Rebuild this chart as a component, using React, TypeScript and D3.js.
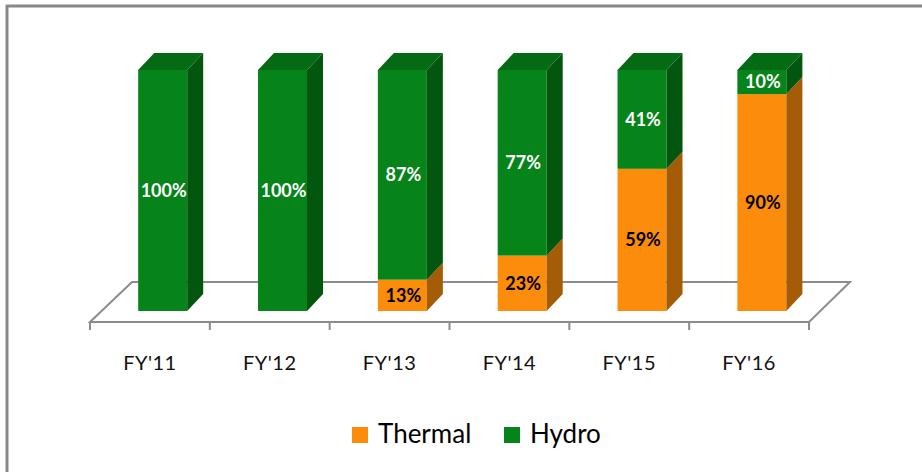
import React from 'react';
import * as d3 from 'd3';

const categories = ["FY'11", "FY'12", "FY'13", "FY'14", "FY'15", "FY'16"];
const thermal = [0, 0, 13, 23, 59, 90];
const hydro = [100, 100, 87, 77, 41, 10];
const legendLabels = ['Thermal', 'Hydro'];

const W = 922;
const H = 472;
const FONT = 'Lato, "Open Sans", sans-serif';

const colors = {
  thermal: { front: '#fb8c0c', side: '#a55c07', top: '#c46d08', text: '#000' },
  hydro: { front: '#06841a', side: '#02560e', top: '#046a14', text: '#fff' },
};

export default function App() {
  // floor (front edge) and depth
  const floorLeft = 90;
  const floorRight = 809;
  const floorFront = 322;
  const floorDepth = 40;
  const floorDx = 41;

  const x = d3.scaleBand<string>().domain(categories).range([floorLeft, floorRight]).padding(0);
  const y = d3.scaleLinear().domain([0, 100]).range([311, 70]);

  const barW = 49;
  const dx = 16; // bar depth offset
  const dy = 17;
  const inset = floorFront - y(0); // bar sits inside the floor
  const shift = (inset * floorDx) / floorDepth + 1.5;

  const stack = d3.stack<number>().keys(['thermal', 'hydro']).value((i, k) => (k === 'thermal' ? thermal[i] : hydro[i]));
  const series = stack(categories.map((_, i) => i));

  const floorPts = [
    [floorLeft, floorFront],
    [floorRight, floorFront],
    [floorRight + floorDx, floorFront - floorDepth],
    [floorLeft + floorDx + 1, floorFront - floorDepth],
  ];

  const bars = categories.map((cat, i) => {
    const x0 = (x(cat) as number) + x.bandwidth() / 2 - barW / 2 + shift;
    const segs = series
      .map((s) => ({ key: s.key as 'thermal' | 'hydro', y0: s[i][0], y1: s[i][1] }))
      .filter((s) => s.y1 - s.y0 > 0);
    return (
      <g key={cat}>
        {segs.map((s, j) => {
          const c = colors[s.key];
          const top = y(s.y1);
          const bot = y(s.y0);
          const isTop = j === segs.length - 1;
          return (
            <g key={s.key}>
              <rect x={x0} y={top} width={barW} height={bot - top} fill={c.front} />
              <path
                d={`M${x0 + barW},${bot}L${x0 + barW + dx},${bot - dy}L${x0 + barW + dx},${top - dy}L${x0 + barW},${top}Z`}
                fill={c.side}
              />
              {isTop && (
                <path
                  d={`M${x0},${top}L${x0 + dx},${top - dy}L${x0 + barW + dx},${top - dy}L${x0 + barW},${top}Z`}
                  fill={c.top}
                />
              )}
            </g>
          );
        })}
        {segs.map((s) => (
          <text
            key={s.key + 'l'}
            x={x0 + barW / 2 + 1}
            y={(y(s.y0) + y(s.y1)) / 2}
            dy="0.35em"
            textAnchor="middle"
            fontFamily={FONT}
            fontWeight="bold"
            fontSize={18}
            fill={colors[s.key].text}
          >
            {`${s.y1 - s.y0}%`}
          </text>
        ))}
      </g>
    );
  });

  return (
    <div style={{ position: 'absolute', left: 0, top: 0 }}>
      <svg width={W} height={H} style={{ display: 'block' }}>
        <rect x={0} y={0} width={W} height={H} fill="#fff" />
        <line x1={6} y1={6} x2={W} y2={6} stroke="#888" strokeWidth={3} />
        <line x1={7} y1={5} x2={7} y2={H} stroke="#888" strokeWidth={3} />

        <polygon points={floorPts.map((p) => p.join(',')).join(' ')} fill="#fff" stroke="#8c8c8c" strokeWidth={2} />
        {[...categories.map((c) => x(c) as number), floorRight].map((t, i) => (
          <line key={i} x1={t} y1={floorFront} x2={t} y2={floorFront + 8} stroke="#8c8c8c" strokeWidth={2} />
        ))}

        {bars}

        {categories.map((cat) => (
          <text
            key={cat}
            x={(x(cat) as number) + x.bandwidth() / 2}
            y={370}
            textAnchor="middle"
            fontFamily={FONT}
            fontSize={20}
            letterSpacing={0.5}
            fill="#111"
          >
            {cat}
          </text>
        ))}

        {legendLabels.map((lab, i) => {
          const lx = [352, 504][i];
          return (
            <g key={lab}>
              <rect x={lx} y={427} width={16} height={16} fill={i === 0 ? colors.thermal.front : colors.hydro.front} />
              <text x={lx + 26} y={443} fontFamily={FONT} fontSize={26} fill="#000">
                {lab}
              </text>
            </g>
          );
        })}
      </svg>
    </div>
  );
}
